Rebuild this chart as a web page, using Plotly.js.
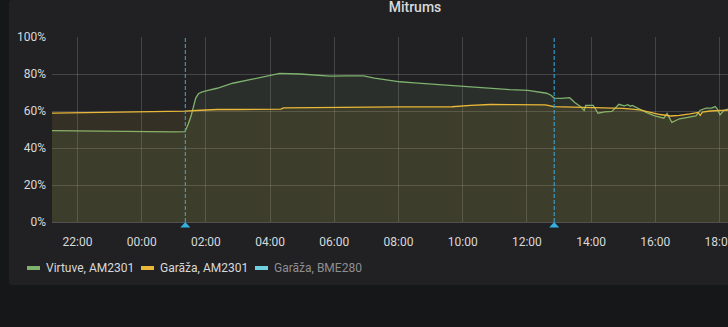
<!DOCTYPE html>
<html>
<head>
<meta charset="utf-8">
<script src="https://cdn.plot.ly/plotly-3.0.1.min.js"></script>
<style>
  html, body { margin:0; padding:0; background:#161719; overflow:hidden; }
  #panel { position:absolute; left:9px; top:0; width:740px; height:285px; background:#212124; border-radius:3px; }
  #chart { position:absolute; left:0; top:0; width:728px; height:327px; }
</style>
</head>
<body>
<div id="panel"></div>
<div id="chart"></div>
<script>
// ---- data ----
const chartTitle = 'Mitrums';
const seriesNames = ['Virtuve, AM2301', 'Garāža, AM2301', 'Garāža, BME280'];
const seriesColors = ['#7EB26D', '#EAB839', '#6ED0E0'];
const seriesHidden = [false, false, true];

const virtuveTimes = [
 '2019-06-10 21:12','2019-06-10 21:40','2019-06-10 22:00','2019-06-10 22:40','2019-06-10 23:00','2019-06-10 23:30',
 '2019-06-11 00:00','2019-06-11 00:30','2019-06-11 01:00','2019-06-11 01:21','2019-06-11 01:23','2019-06-11 01:27',
 '2019-06-11 01:32','2019-06-11 01:37','2019-06-11 01:41','2019-06-11 01:46','2019-06-11 01:52','2019-06-11 02:02',
 '2019-06-11 02:21','2019-06-11 02:50','2019-06-11 03:10','2019-06-11 03:28','2019-06-11 03:45','2019-06-11 04:00',
 '2019-06-11 04:18','2019-06-11 04:56','2019-06-11 05:33','2019-06-11 05:52','2019-06-11 06:20','2019-06-11 06:55',
 '2019-06-11 07:15','2019-06-11 07:35','2019-06-11 08:03','2019-06-11 08:30','2019-06-11 08:59','2019-06-11 09:30',
 '2019-06-11 09:55','2019-06-11 10:20','2019-06-11 10:51','2019-06-11 11:10','2019-06-11 11:28','2019-06-11 12:02',
 '2019-06-11 12:20','2019-06-11 12:37','2019-06-11 12:45','2019-06-11 12:51','2019-06-11 13:05','2019-06-11 13:20',
 '2019-06-11 13:30','2019-06-11 13:40','2019-06-11 13:47','2019-06-11 13:50','2019-06-11 14:04','2019-06-11 14:13',
 '2019-06-11 14:25','2019-06-11 14:39','2019-06-11 14:52','2019-06-11 15:02','2019-06-11 15:09','2019-06-11 15:13',
 '2019-06-11 15:17','2019-06-11 15:31','2019-06-11 15:45','2019-06-11 15:59','2019-06-11 16:09','2019-06-11 16:16',
 '2019-06-11 16:22','2019-06-11 16:31','2019-06-11 16:45','2019-06-11 16:59','2019-06-11 17:16','2019-06-11 17:24',
 '2019-06-11 17:35','2019-06-11 17:45','2019-06-11 17:52','2019-06-11 17:56','2019-06-11 18:01','2019-06-11 18:08',
 '2019-06-11 18:16'
];
const virtuveValues = [
 49.4, 49.3, 49.2, 49.0, 48.8, 48.8,
 48.8, 48.8, 48.7, 48.8, 50.0, 53.0,
 57.0, 63.0, 67.0, 69.3, 70.2, 71.0,
 72.3, 75.0, 76.2, 77.5, 78.5, 79.5,
 80.3, 80.0, 79.5, 78.9, 79.0, 79.0,
 77.8, 76.8, 75.8, 75.2, 74.6, 74.0,
 73.4, 72.7, 72.4, 71.9, 71.5, 71.1,
 70.3, 69.6, 68.5, 67.0, 66.8, 67.2,
 64.5, 62.5, 60.3, 63.0, 63.0, 58.8,
 59.5, 59.8, 63.6, 62.8, 63.4, 62.6,
 63.0, 60.8, 59.0, 57.4, 56.8, 56.1,
 58.6, 53.9, 55.8, 56.7, 57.4, 60.4,
 61.5, 61.6, 62.4, 61.0, 57.9, 60.2,
 61.0
];

const garazaTimes = [
 '2019-06-10 21:12','2019-06-10 22:00','2019-06-10 23:00','2019-06-11 00:00','2019-06-11 01:00','2019-06-11 01:21',
 '2019-06-11 01:50','2019-06-11 02:21','2019-06-11 03:00','2019-06-11 04:00','2019-06-11 04:20','2019-06-11 04:25',
 '2019-06-11 05:00','2019-06-11 05:52','2019-06-11 06:55','2019-06-11 08:00','2019-06-11 09:00','2019-06-11 09:40',
 '2019-06-11 10:15','2019-06-11 10:51','2019-06-11 11:30','2019-06-11 12:00','2019-06-11 12:35','2019-06-11 12:50',
 '2019-06-11 13:50','2019-06-11 14:25','2019-06-11 15:00','2019-06-11 15:31','2019-06-11 15:50','2019-06-11 16:09',
 '2019-06-11 16:29','2019-06-11 16:45','2019-06-11 17:05','2019-06-11 17:20','2019-06-11 17:24','2019-06-11 17:28',
 '2019-06-11 17:42','2019-06-11 18:00','2019-06-11 18:16'
];
const garazaValues = [
 58.9, 59.1, 59.3, 59.5, 59.8, 59.9,
 60.4, 60.8, 60.8, 61.0, 61.0, 61.7,
 61.8, 62.1, 62.3, 62.2, 62.2, 62.3,
 63.0, 63.5, 63.4, 63.5, 63.3, 62.4,
 61.9, 61.3, 61.4, 60.6, 59.3, 58.1,
 57.3, 57.6, 58.4, 59.2, 57.6, 59.4,
 60.0, 60.4, 60.5
];

const annotationTimes = ['2019-06-11 01:21:30', '2019-06-11 12:51:00'];
const xRange = ['2019-06-10 21:12:21', '2019-06-11 18:15:54'];
const yTickVals = [0, 20, 40, 60, 80, 100];
const yTickLabels = ['0%', '20%', '40%', '60%', '80%', '100%'];

// ---- layout constants ----
const W = 728, H = 327;
const plotL = 52, plotR = 728, plotT = 37, plotB = 222;
const px2x = px => (px - plotL) / (plotR - plotL);
const py2y = py => (plotB - py) / (plotB - plotT);
const textColor = '#d8d9da';
const annColor = '#33b0e0';

function hexToRgba(hex, a) {
  const n = parseInt(hex.slice(1), 16);
  return 'rgba(' + ((n >> 16) & 255) + ',' + ((n >> 8) & 255) + ',' + (n & 255) + ',' + a + ')';
}

const seriesData = [
  {x: virtuveTimes, y: virtuveValues},
  {x: garazaTimes, y: garazaValues},
  {x: [], y: []}
];

const traces = [];
seriesData.forEach((d, i) => {
  if (seriesHidden[i]) return;
  traces.push({
    type: 'scatter', mode: 'lines', x: d.x, y: d.y, name: seriesNames[i],
    line: {color: seriesColors[i], width: 1.3},
    fill: 'tozeroy', fillcolor: hexToRgba(seriesColors[i], 0.1),
    showlegend: false, hoverinfo: 'skip'
  });
});

const shapes = [];
annotationTimes.forEach(t => {
  shapes.push({
    type: 'line', xref: 'x', yref: 'paper', x0: t, x1: t, y0: 0, y1: 1,
    line: {color: annColor, width: 1, dash: '4px,2px'}
  });
  shapes.push({
    type: 'path', xref: 'x', xsizemode: 'pixel', xanchor: t,
    yref: 'paper', ysizemode: 'pixel', yanchor: 0,
    path: 'M-5,-5.5L5,-5.5L0,0Z',
    fillcolor: annColor, line: {width: 0}
  });
});

// legend (custom, Grafana style)
const legendX = [27, 141, 255];
const legendTextX = [44, 158, 272];
const legendY = 268;
const annotations = [];
seriesNames.forEach((n, i) => {
  shapes.push({
    type: 'rect', xref: 'paper', yref: 'paper',
    x0: px2x(legendX[i]), x1: px2x(legendX[i] + 13),
    y0: py2y(legendY + 2), y1: py2y(legendY - 2),
    fillcolor: seriesColors[i], line: {width: 0}
  });
  annotations.push({
    xref: 'paper', yref: 'paper', x: px2x(legendTextX[i]), y: py2y(legendY),
    xanchor: 'left', yanchor: 'middle', showarrow: false, text: n,
    font: {family: 'Roboto, sans-serif', size: 12, color: seriesHidden[i] ? '#8e8e90' : textColor}
  });
});

const layout = {
  width: W, height: H,
  margin: {l: plotL, r: W - plotR, t: plotT, b: H - plotB, pad: 0},
  paper_bgcolor: 'rgba(0,0,0,0)', plot_bgcolor: 'rgba(0,0,0,0)',
  font: {family: 'Roboto, sans-serif', size: 12, color: textColor},
  title: {
    text: chartTitle, xref: 'container', yref: 'container',
    x: 415 / W, y: 1 - 7 / H, xanchor: 'center', yanchor: 'middle',
    font: {family: 'Roboto, sans-serif', size: 14, color: textColor, weight: 500}
  },
  xaxis: {
    type: 'date', range: xRange, tickformat: '%H:%M', dtick: 7200000, tick0: '2019-06-10 00:00',
    showgrid: true, gridcolor: 'rgba(255,255,255,0.16)', gridwidth: 1,
    showline: true, linecolor: 'rgba(255,255,255,0.22)', linewidth: 1,
    zeroline: false, ticks: '', ticklabelstandoff: 9, ticklabeloverflow: 'allow',
    tickfont: {family: 'Roboto, sans-serif', size: 12, color: textColor},
    fixedrange: true
  },
  yaxis: {
    range: [0, 100], tickmode: 'array', tickvals: yTickVals, ticktext: yTickLabels,
    showgrid: true, gridcolor: 'rgba(255,255,255,0.16)', gridwidth: 1,
    showline: false, zeroline: false, ticks: '', ticklabelstandoff: 5,
    tickfont: {family: 'Roboto, sans-serif', size: 12, color: textColor},
    fixedrange: true
  },
  shapes: shapes,
  annotations: annotations,
  showlegend: false
};

Plotly.newPlot('chart', traces, layout, {displayModeBar: false, staticPlot: true});
</script>
</body>
</html>
